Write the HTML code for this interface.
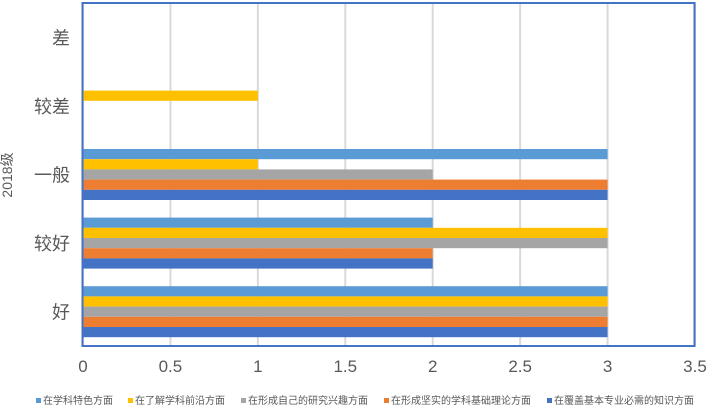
<!DOCTYPE html>
<html><head><meta charset="utf-8"><style>
body{margin:0;background:#fff;width:713px;height:409px;overflow:hidden;font-family:"Liberation Sans","Noto Sans CJK SC",sans-serif}
</style></head><body>
<svg width="713" height="409" style="font-family:'Liberation Sans','Noto Sans CJK SC',sans-serif">
<g id="grid"></g><g id="bars"></g><g id="labels"></g><g id="legend"></g>
<rect x="82.5" y="3" width="612" height="343" fill="none" stroke="#4472c4" stroke-width="2"/>
<text x="12" y="175" transform="rotate(-90 12 175)" text-anchor="middle" font-size="14" fill="#595959">2018级</text>
</svg>
<script>
const categories=["好","较好","一般","较差","差"];
const seriesNames=["在学科特色方面","在了解学科前沿方面","在形成自己的研究兴趣方面","在形成坚实的学科基础理论方面","在覆盖基本专业必需的知识方面"];
const s1=[3,2,3,0,0];
const s2=[3,3,1,1,0];
const s3=[3,3,2,0,0];
const s4=[3,2,3,0,0];
const s5=[3,2,3,0,0];
const ticks=[0,0.5,1,1.5,2,2.5,3,3.5];
const colors=["#5b9bd5","#ffc000","#a5a5a5","#ed7d31","#4472c4"];
const series=[s1,s2,s3,s4,s5];
const NS="http://www.w3.org/2000/svg";
const x0=83,x1=695,yTop=3,yBot=346,maxV=3.5;
const xs=v=>x0+(x1-x0)*v/maxV;
const band=(yBot-yTop)/categories.length;
const bandTop=i=>yBot-band*(i+1);
function mk(t,a,p){const e=document.createElementNS(NS,t);for(const k in a)e.setAttribute(k,a[k]);p.appendChild(e);return e;}
const g=document.getElementById('grid'),b=document.getElementById('bars'),l=document.getElementById('labels'),lg=document.getElementById('legend');
ticks.forEach(t=>{
 const ln=mk('line',{x1:xs(t),x2:xs(t),y1:yTop,y2:yBot,stroke:'#d9d9d9','stroke-width':2},g);
 
 
 const tx=mk('text',{x:xs(t),y:372,'text-anchor':'middle','font-size':17,fill:'#595959'},l);
 tx.textContent=t;
 
 
});
const bh=10.2;
categories.forEach((c,i)=>{
 const top=bandTop(i);
 const gs=top+(band-bh*5)/2;
 series.forEach((s,j)=>{
  if(s[i]<=0)return;
  const r=mk('rect',{x:x0,y:gs+j*bh,width:xs(s[i])-x0,height:bh,fill:colors[j]},b);
  
  
 });
 const tx=mk('text',{x:70,y:top+band/2+7,'text-anchor':'end','font-size':18,fill:'#595959'},l);
 tx.textContent=c;
 
 
});
const lx=[36,128,241,384,547];
seriesNames.forEach((n,j)=>{
 const r=mk('rect',{x:lx[j],y:398,width:5,height:5,fill:colors[j]},lg);
 
 
 const tx=mk('text',{x:lx[j]+7,y:404,'font-size':10,fill:'#595959'},lg);
 tx.textContent=n;
 
 
});
</script>
</body></html>
